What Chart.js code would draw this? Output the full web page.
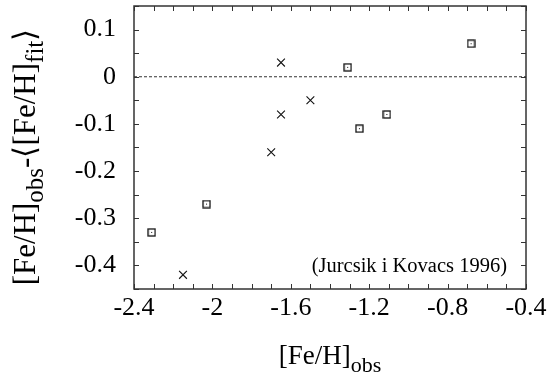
<!DOCTYPE html>
<html>
<head>
<meta charset="utf-8">
<script src="https://cdn.jsdelivr.net/npm/chart.js@4.4.1/dist/chart.umd.min.js"></script>
<style>
  html, body { margin: 0; padding: 0; background: #fff; }
  canvas { display: block; }
</style>
</head>
<body>
<canvas id="grafica" width="550" height="378"></canvas>
<script>
// valores de los dos grupos de estrellas
const cuadrosX = [-2.31, -2.03, -1.31, -1.25, -1.11, -0.68];
const cuadrosY = [-0.33, -0.27, 0.02, -0.11, -0.08, 0.07];
const crucesX = [-2.15, -1.70, -1.65, -1.65, -1.50];
const crucesY = [-0.42, -0.16, 0.03, -0.08, -0.05];

const ticksX = [-2.4, -2.0, -1.6, -1.2, -0.8, -0.4];
const ticksY = [-0.4, -0.3, -0.2, -0.1, 0, 0.1];
const rangoX = [-2.4, -0.4];
const rangoY = [-0.45, 0.15];

const SERIF = '"Liberation Serif", "Times New Roman", serif';

// cuadrito con punto central
function marcaCuadro() {
    const c = document.createElement('canvas');
    c.width = 9; c.height = 9;
    const g = c.getContext('2d');
    g.strokeStyle = '#111';
    g.lineWidth = 1.3;
    g.strokeRect(1, 1, 7, 7);
    g.fillStyle = '#111';
    g.fillRect(4, 4, 1, 1);
    return c;
}

// texto con subindices: [[texto, esSub], ...]
function anchoPartes(ctx, partes, tam, tamSub) {
    let w = 0;
    partes.forEach(p => {
        ctx.font = (p[1] ? tamSub : tam) + 'px ' + SERIF;
        w += ctx.measureText(p[0]).width;
    });
    return w;
}

function dibujarPartes(ctx, partes, x, y, tam, tamSub, bajada) {
    let pos = x;
    partes.forEach(p => {
        ctx.font = (p[1] ? tamSub : tam) + 'px ' + SERIF;
        ctx.fillText(p[0], pos, p[1] ? y + bajada : y);
        pos += ctx.measureText(p[0]).width;
    });
}

const marco = {
    id: 'marco',
    afterDraw(chart) {
        const ctx = chart.ctx;
        const a = chart.chartArea;
        const sx = chart.scales.x;
        const sy = chart.scales.y;
        ctx.save();
        ctx.strokeStyle = '#333';
        ctx.lineWidth = 1;
        ctx.beginPath();
        for (let i = 0; i <= 20; i++) {
            const px = Math.round(sx.getPixelForValue(rangoX[0] + i * 0.1)) + 0.5;
            ctx.moveTo(px, a.bottom); ctx.lineTo(px, a.bottom - 5);
            ctx.moveTo(px, a.top); ctx.lineTo(px, a.top + 5);
        }
        for (let i = 0; i <= 12; i++) {
            const py = Math.round(sy.getPixelForValue(rangoY[0] + i * 0.05)) + 0.5;
            ctx.moveTo(a.left, py); ctx.lineTo(a.left + 5, py);
            ctx.moveTo(a.right, py); ctx.lineTo(a.right - 5, py);
        }
        ctx.stroke();
        ctx.lineWidth = 1.5;
        ctx.strokeRect(a.left, a.top, a.right - a.left, a.bottom - a.top);

        ctx.fillStyle = '#000';
        ctx.textBaseline = 'alphabetic';

        // referencia
        ctx.font = '20.5px ' + SERIF;
        ctx.textAlign = 'right';
        ctx.fillText('(Jurcsik i Kovacs 1996)', a.right - 19, 272);
        ctx.textAlign = 'left';

        // titulo eje x
        const px = [['[Fe/H]', false], ['obs', true]];
        const wx = anchoPartes(ctx, px, 27, 22);
        dibujarPartes(ctx, px, (a.left + a.right) / 2 - wx / 2, 364, 27, 22, 8);

        // titulo eje y
        const py = [['[Fe/H]', false], ['obs', true], ['-\u27E8[Fe/H]', false], ['fit', true], ['\u27E9', false]];
        ctx.translate(35, 157);
        ctx.rotate(-Math.PI / 2);
        const wy = anchoPartes(ctx, py, 31, 25);
        dibujarPartes(ctx, py, -wy / 2, 0, 31, 25, 8);
        ctx.restore();
    }
};

new Chart(document.getElementById('grafica').getContext('2d'), {
    type: 'scatter',
    data: {
        datasets: [
            {
                label: 'cuadros',
                data: cuadrosX.map((x, i) => ({ x: x, y: cuadrosY[i] })),
                pointStyle: marcaCuadro(),
                pointRadius: 4.5,
                pointHoverRadius: 4.5
            },
            {
                label: 'cruces',
                data: crucesX.map((x, i) => ({ x: x, y: crucesY[i] })),
                pointStyle: 'crossRot',
                pointRadius: 5.5,
                pointHoverRadius: 5.5,
                borderColor: '#111',
                borderWidth: 1.1
            },
            {
                type: 'line',
                label: 'cero',
                data: [{ x: rangoX[0], y: 0 }, { x: rangoX[1], y: 0 }],
                borderColor: '#333',
                borderWidth: 1,
                borderDash: [3, 2],
                pointRadius: 0
            }
        ]
    },
    options: {
        responsive: false,
        animation: false,
        devicePixelRatio: 1,
        layout: { autoPadding: false, padding: { top: 6, right: 24, left: 0, bottom: 0 } },
        plugins: {
            legend: { display: false },
            tooltip: { enabled: false }
        },
        scales: {
            x: {
                type: 'linear',
                min: rangoX[0],
                max: rangoX[1],
                afterBuildTicks: s => { s.ticks = ticksX.map(v => ({ value: v })); },
                afterFit: s => { s.height = 89; s.paddingLeft = 0; s.paddingRight = 0; },
                grid: { display: false, drawTicks: false },
                border: { display: false },
                ticks: {
                    color: '#000',
                    padding: 4,
                    maxRotation: 0,
                    font: { family: SERIF, size: 26 },
                    callback: v => String(Math.round(v * 10) / 10)
                }
            },
            y: {
                type: 'linear',
                min: rangoY[0],
                max: rangoY[1],
                afterBuildTicks: s => { s.ticks = ticksY.map(v => ({ value: v })); },
                afterFit: s => { s.width = 134; s.paddingTop = 0; s.paddingBottom = 0; },
                grid: { display: false, drawTicks: false },
                border: { display: false },
                ticks: {
                    color: '#000',
                    padding: 18,
                    font: { family: SERIF, size: 26 },
                    callback: v => String(Math.round(v * 10) / 10)
                }
            }
        }
    },
    plugins: [marco]
});
</script>
</body>
</html>
